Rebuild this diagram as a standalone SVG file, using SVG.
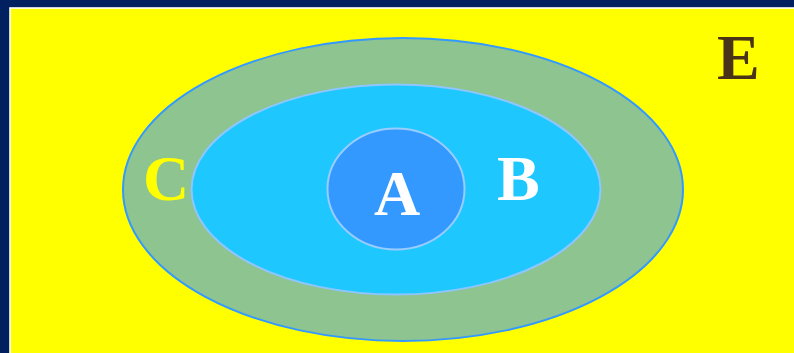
<svg xmlns="http://www.w3.org/2000/svg" width="794" height="353" viewBox="0 0 794 353">
  <style>
    .lbl { font-family: "Liberation Serif", "Times New Roman", serif; font-weight: bold; font-size: 64px; }
  </style>
  <rect x="0" y="0" width="794" height="353" fill="#002060"/>
  <rect x="10" y="8" width="790" height="350" fill="#ffff00" stroke="#ffffff" stroke-width="1.6"/>
  <g id="E">
    <text class="lbl" x="717" y="79" fill="#4a3418">E</text>
  </g>
  <g id="C">
    <ellipse cx="403" cy="189.5" rx="280" ry="151.5" fill="#8dc48f" stroke="#3399ff" stroke-width="2"/>
    <text class="lbl" x="143" y="200" fill="#ffff00">C</text>
  </g>
  <g id="B">
    <ellipse cx="396" cy="189.5" rx="204.5" ry="105" fill="#1ec8ff" stroke="#8ec6ff" stroke-width="2"/>
    <text class="lbl" x="497" y="200" fill="#ffffff">B</text>
  </g>
  <g id="A">
    <ellipse cx="396" cy="189" rx="68.5" ry="60.5" fill="#3399ff" stroke="#99ccff" stroke-width="2"/>
    <text class="lbl" x="397" y="215" fill="#ffffff" text-anchor="middle">A</text>
  </g>
  <g id="connectors"/>
</svg>
